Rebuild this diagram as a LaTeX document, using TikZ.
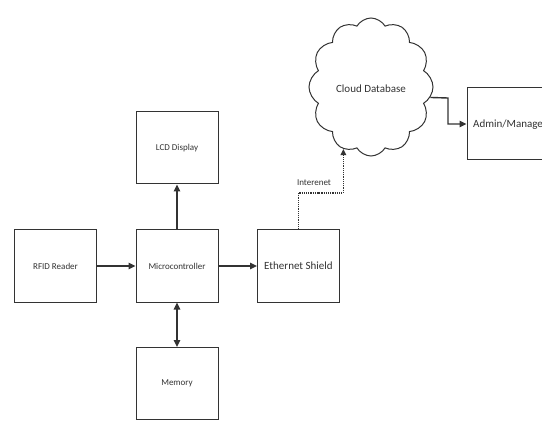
\documentclass[tikz,border=0pt]{standalone}
\usepackage{fontspec}
\setmainfont{Carlito}
\usetikzlibrary{arrows.meta,shapes.symbols,calc}
\definecolor{ink}{HTML}{333333}
\begin{document}
\begin{tikzpicture}[x=1pt,y=-1pt,
  blockbox/.style={draw=ink,line width=1pt,minimum width=82pt,minimum height=72pt,inner sep=0pt,text=ink},
  smalltxt/.style={font=\fontsize{9}{10}\selectfont},
  bigtxt/.style={font=\fontsize{11}{13}\selectfont},
  arr/.style={draw=ink,line width=1.4pt,-{Triangle[length=7pt,width=6.5pt]}},
  darr/.style={draw=ink,line width=1.4pt,{Triangle[length=7pt,width=6.5pt]}-{Triangle[length=7pt,width=6.5pt]}},
  dasharr/.style={draw=ink,line width=1.2pt,densely dotted,-{Triangle[length=6pt,width=5.5pt]}}]
\useasboundingbox (0,0) rectangle (542,428);
\clip (0,0) rectangle (542,428);
\fill[white] (0,0) rectangle (542,428);

\node[blockbox,smalltxt] (rfid) at (55.5,266) {RFID Reader};
\node[blockbox,smalltxt] (mcu) at (177,266) {Microcontroller};
\node[blockbox,bigtxt] (eth) at (298.5,266) {Ethernet Shield};
\node[blockbox,smalltxt] (lcd) at (177,148) {LCD Display};
\node[blockbox,smalltxt] (mem) at (177,383.5) {Memory};

\node[cloud,draw=ink,line width=1pt,cloud puffs=12,cloud puff arc=120,
      minimum width=124pt,minimum height=138pt,aspect=0.9,inner sep=0pt] (cloud) at (371,87) {};
\node[bigtxt,text=ink] (cloudtxt) at (371,89) {Cloud Database};

\node[blockbox,minimum width=92pt] (admin) at (513,124) {};
\node[bigtxt,text=ink,anchor=west,inner sep=0pt] (admintxt) at (473,125) {Admin/Manage};

\draw[arr] (rfid) -- (mcu);
\draw[arr] (mcu) -- (eth);
\draw[arr] (mcu) -- (lcd);
\draw[darr] (mcu) -- (mem);

\coordinate (bend) at (318,193);
\draw[dasharr] (eth.north) |- (bend) -| (cloud.-114);
\node[smalltxt,text=ink,anchor=south] (inet) at (314,189) {Interenet};

\coordinate (turn) at (448,98);
\draw[arr] (cloud.-10) -- (turn) |- (admin.west);
\end{tikzpicture}
\end{document}
